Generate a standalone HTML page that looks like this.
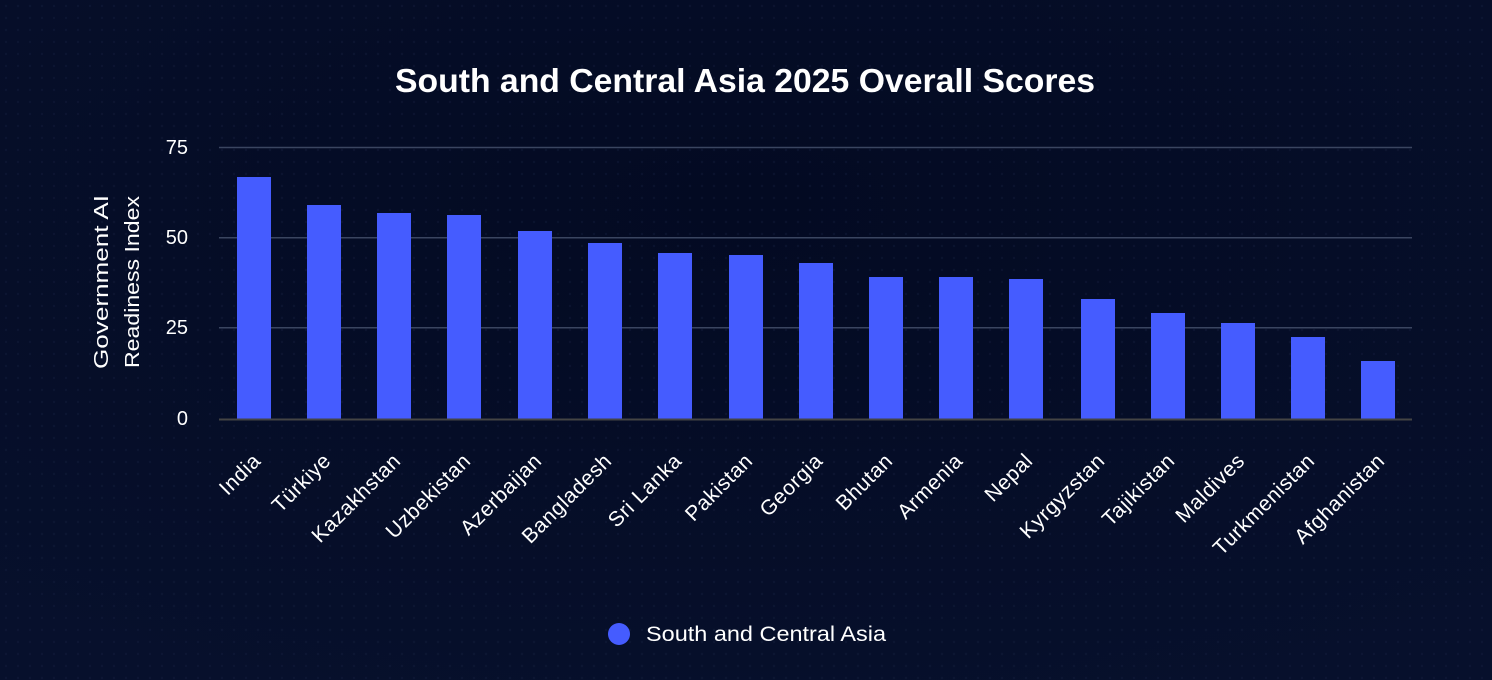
<!DOCTYPE html>
<html><head><meta charset="utf-8"><style>
html,body{margin:0;padding:0;background:#040c26;}
svg{display:block;font-family:"Liberation Sans",sans-serif;}
</style></head><body>
<svg width="1492" height="680" viewBox="0 0 1492 680" xmlns="http://www.w3.org/2000/svg">
<defs>
<radialGradient id="bg" cx="0.5" cy="0.3" r="0.8"><stop offset="0" stop-color="#030a22"/><stop offset="1" stop-color="#07102c"/></radialGradient>
<pattern id="dots" width="12" height="12" patternUnits="userSpaceOnUse"><circle cx="6" cy="6" r="1.2" fill="#1a2446" opacity="0.6"/></pattern>
</defs>
<rect width="1492" height="680" fill="url(#bg)"/>
<rect width="1492" height="680" fill="url(#dots)" opacity="0.5"/>
<text x="395" y="92" fill="#fff" font-size="33" font-weight="bold" textLength="700" lengthAdjust="spacingAndGlyphs">South and Central Asia 2025 Overall Scores</text>
<g stroke="#3a4560" stroke-width="1.5">
<line x1="219" x2="1412" y1="147.5" y2="147.5"/>
<line x1="219" x2="1412" y1="237.7" y2="237.7"/>
<line x1="219" x2="1412" y1="327.8" y2="327.8"/>
</g>
<g fill="#fff" font-size="20" text-anchor="end">
<text x="188" y="154">75</text><text x="188" y="244">50</text><text x="188" y="334">25</text><text x="188" y="425">0</text>
</g>
<text transform="translate(108,282) rotate(-90)" fill="#fff" font-size="20" text-anchor="middle" textLength="174" lengthAdjust="spacingAndGlyphs">Government AI</text>
<text transform="translate(139,282) rotate(-90)" fill="#fff" font-size="20" text-anchor="middle" textLength="172" lengthAdjust="spacingAndGlyphs">Readiness Index</text>
<g fill="#455cff">
<rect x="237" y="177" width="34" height="242"/>
<rect x="307" y="205" width="34" height="214"/>
<rect x="377" y="213" width="34" height="206"/>
<rect x="447" y="215" width="34" height="204"/>
<rect x="518" y="231" width="34" height="188"/>
<rect x="588" y="243" width="34" height="176"/>
<rect x="658" y="253" width="34" height="166"/>
<rect x="729" y="255" width="34" height="164"/>
<rect x="799" y="263" width="34" height="156"/>
<rect x="869" y="277" width="34" height="142"/>
<rect x="939" y="277" width="34" height="142"/>
<rect x="1009" y="279" width="34" height="140"/>
<rect x="1081" y="299" width="34" height="120"/>
<rect x="1151" y="313" width="34" height="106"/>
<rect x="1221" y="323" width="34" height="96"/>
<rect x="1291" y="337" width="34" height="82"/>
<rect x="1361" y="361" width="34" height="58"/>
</g>
<line x1="219" x2="1412" y1="419.5" y2="419.5" stroke="#444" stroke-width="2"/>
<g fill="#fff" font-size="21" text-anchor="end" letter-spacing="0.6">
<text transform="translate(262,462) rotate(-45)">India</text>
<text transform="translate(332,462) rotate(-45)">Türkiye</text>
<text transform="translate(402,462) rotate(-45)">Kazakhstan</text>
<text transform="translate(472,462) rotate(-45)">Uzbekistan</text>
<text transform="translate(543,462) rotate(-45)">Azerbaijan</text>
<text transform="translate(613,462) rotate(-45)">Bangladesh</text>
<text transform="translate(683,462) rotate(-45)">Sri Lanka</text>
<text transform="translate(754,462) rotate(-45)">Pakistan</text>
<text transform="translate(824,462) rotate(-45)">Georgia</text>
<text transform="translate(894,462) rotate(-45)">Bhutan</text>
<text transform="translate(964,462) rotate(-45)">Armenia</text>
<text transform="translate(1034,462) rotate(-45)">Nepal</text>
<text transform="translate(1106,462) rotate(-45)">Kyrgyzstan</text>
<text transform="translate(1176,462) rotate(-45)">Tajikistan</text>
<text transform="translate(1246,462) rotate(-45)">Maldives</text>
<text transform="translate(1316,462) rotate(-45)">Turkmenistan</text>
<text transform="translate(1386,462) rotate(-45)">Afghanistan</text>
</g>
<circle cx="619" cy="634" r="11" fill="#455cff"/>
<text x="646" y="641" fill="#fff" font-size="21" textLength="240" lengthAdjust="spacingAndGlyphs">South and Central Asia</text>
</svg>
</body></html>
